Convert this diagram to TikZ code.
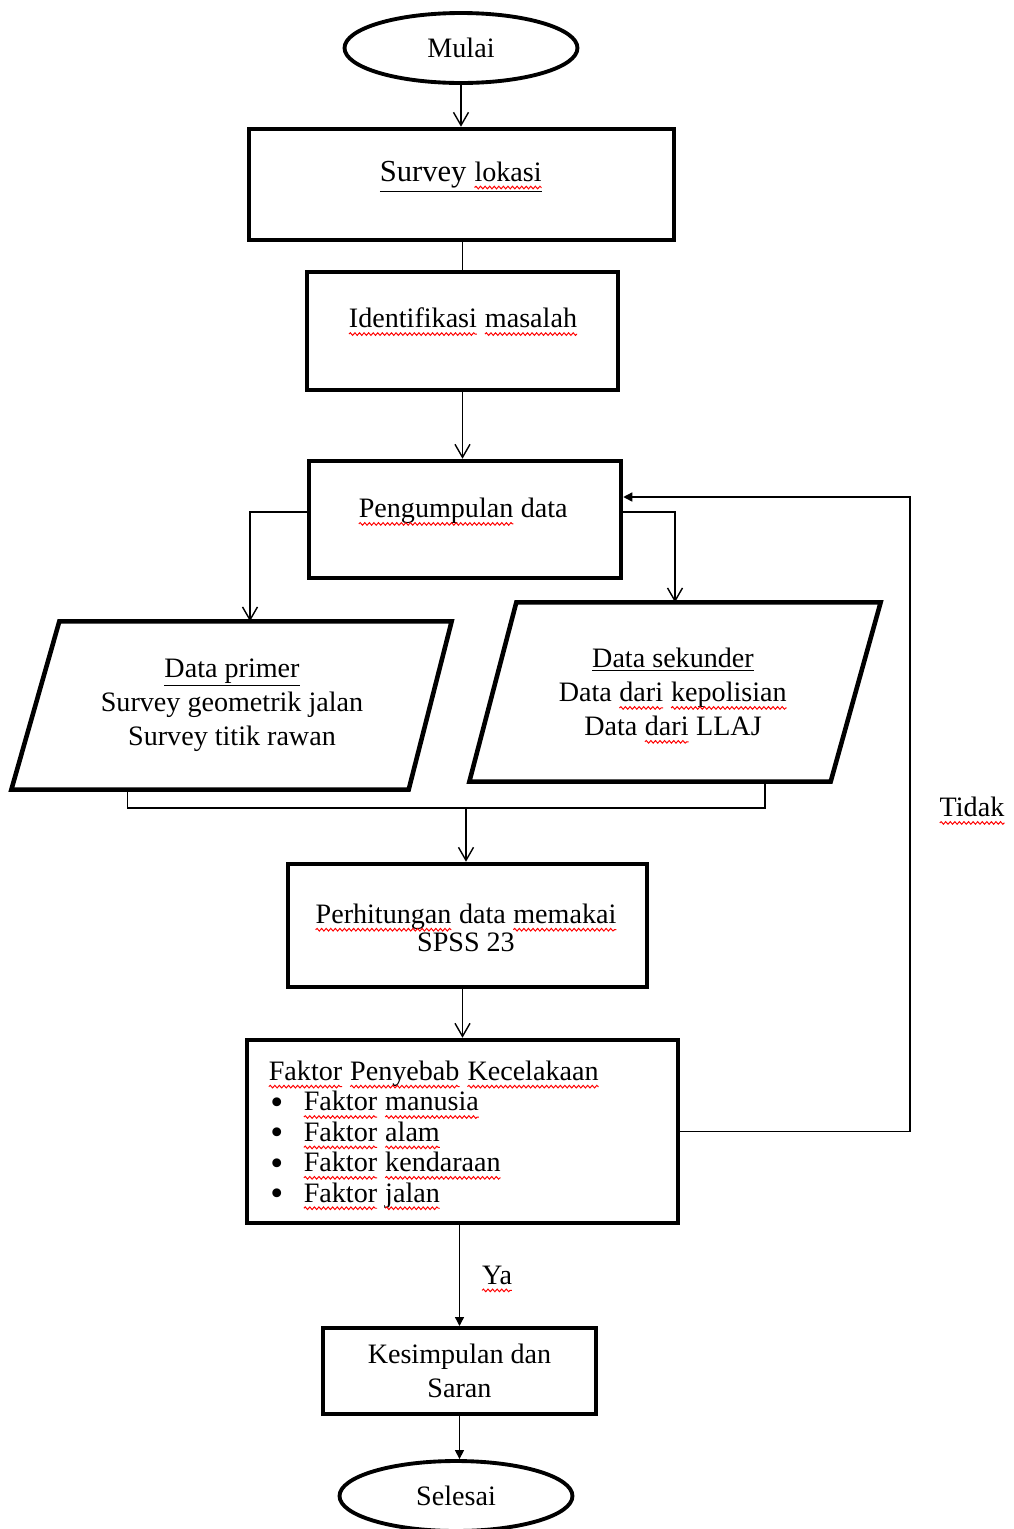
\documentclass[tikz,border=0pt]{standalone}
\usepackage{fontspec}
\setmainfont{Liberation Serif}
\usetikzlibrary{arrows.meta,positioning,shapes.geometric,calc,decorations.pathmorphing}
\newcommand\spl[1]{\tikz[baseline=(w.base)]{\node[rectangle,draw=none,inner sep=0pt,outer sep=0pt,minimum width=0pt,minimum height=0pt] (w) {#1};
  \draw[red,line width=0.55pt,decorate,decoration={snake,amplitude=0.75pt,segment length=2.6pt}] ([yshift=-3.5pt]w.base west) -- ([yshift=-3.5pt]w.base east);}}
\newcommand\butir{\makebox[0.7cm][l]{\hspace*{0.04cm}\raisebox{-2pt}[0pt][0pt]{\fontsize{21}{0}\selectfont\textbullet}}}

\begin{document}
\begin{tikzpicture}[x=0.02cm,y=-0.02cm,line width=0.8pt,>={Straight Barb[length=2.6mm,width=3mm]},
  every node/.style={font=\fontsize{16}{19.3}\selectfont,align=center,inner sep=0pt},
  box/.style={draw,line width=2.6pt},
  term/.style={draw,ellipse,line width=2.2pt,minimum width=4.66cm,minimum height=1.4cm},
  para/.style={line width=2.6pt,line join=miter},
  tri/.style={-{Triangle[length=1.8mm,width=1.8mm]}}]
\useasboundingbox (0,0) rectangle (1014,1529);
\node[term] (mulai) at (461,48) {Mulai};
\node[box,minimum width=8.5cm,minimum height=2.22cm] (survey) at (461.5,184.5) {};
\node[font=\fontsize{17.4}{20}\selectfont] (surveytx) at (461,177) {\underline{Survey \spl{lokasi}}};
\node[box,minimum width=6.22cm,minimum height=2.36cm] (ident) at (462.5,331) {};
\node (identtx) at (463,322) {\spl{Identifikasi} \spl{masalah}};
\node[box,minimum width=6.24cm,minimum height=2.34cm] (kumpul) at (465,519.5) {};
\node (kumpultx) at (463,512) {\spl{Pengumpulan} data};
\node[minimum width=8.78cm,minimum height=3.34cm] (primer) at (231.5,705.5) {};
\draw[para] ($(primer.north west)+(48,0)$) -- (primer.north east) -- ($(primer.south east)+(-43,0)$) -- (primer.south west) -- cycle;
\node (primertx) at (232,705) {\underline{Data primer}\\Survey geometrik jalan\\Survey titik rawan};
\node[minimum width=8.2cm,minimum height=3.56cm] (sekunder) at (675,692) {};
\draw[para] ($(sekunder.north west)+(47,0)$) -- (sekunder.north east) -- ($(sekunder.south east)+(-50,0)$) -- (sekunder.south west) -- cycle;
\node (sekundertx) at (673,696) {\underline{Data sekunder}\\Data \spl{dari} \spl{kepolisian}\\Data \spl{dari} LLAJ};
\node[box,minimum width=7.18cm,minimum height=2.46cm] (hitung) at (467.5,925.5) {};
\node[font=\fontsize{16}{16}\selectfont] (hitungtx) at (466,928) {\spl{Perhitungan} data \spl{memakai}\\SPSS 23};
\node[box,minimum width=8.62cm,minimum height=3.66cm] (faktor) at (462.5,1131.5) {};
\node[anchor=west,align=left,font=\fontsize{16}{17.3}\selectfont] (faktortx) at (268,1135.5) {\spl{Faktor} \spl{Penyebab} \spl{Kecelakaan}\\
  \butir\spl{Faktor} \spl{manusia}\\
  \butir\spl{Faktor} \spl{alam}\\
  \butir\spl{Faktor} \spl{kendaraan}\\
  \butir\spl{Faktor} \spl{jalan}};
\node[box,line width=2.3pt,minimum width=5.46cm,minimum height=1.72cm] (simpul) at (459.5,1371) {Kesimpulan dan\\Saran};
\node[term] (selesai) at (456,1496) {Selesai};
\node (tidak) at (972,811) {\spl{Tidak}};
\node (ya) at (497,1279) {\spl{Ya}};
\draw[->] (mulai) -- (mulai |- survey.north);
\draw (ident.north |- survey.south) -- (ident.north);
\draw[->] (ident.south) -- (ident.south |- kumpul.north);
\draw[->] (kumpul.west |- kumpultx) -| ([xshift=0.37cm]primer.north);
\draw[->] (kumpul.east |- kumpultx) -| (sekunder.north);
\coordinate (gabung) at (466,808);
\draw ([xshift=-2.08cm]primer.south) |- (gabung) -| ([xshift=1.8cm]sekunder.south);
\draw[->] (gabung) -- (gabung |- hitung.north);
\draw[->] (faktor.north |- hitung.south) -- (faktor.north);
\draw[tri] (simpul.north |- faktor.south) -- (simpul.north);
\draw[tri] (simpul.south) -- (simpul.south |- selesai.north);
\coordinate (balik) at (910,497);
\draw[tri] (faktor.east) -| (balik) -- (balik -| kumpul.east);
\end{tikzpicture}
\end{document}
